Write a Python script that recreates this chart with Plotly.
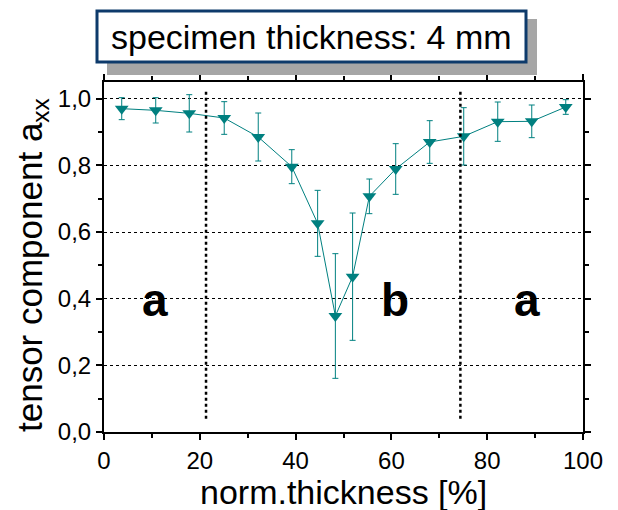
import plotly.graph_objects as go

# data
thickness = [3.7, 10.8, 17.8, 25.1, 32.2, 39.2, 44.6, 48.3, 51.9, 55.4, 60.9, 68.0, 75.1, 82.2, 89.3, 96.4]
a_xx = [0.970, 0.965, 0.956, 0.942, 0.885, 0.796, 0.626, 0.348, 0.466, 0.707, 0.789, 0.870, 0.887, 0.931, 0.932, 0.975]
a_err = [0.033, 0.038, 0.056, 0.049, 0.072, 0.051, 0.099, 0.187, 0.191, 0.052, 0.076, 0.064, 0.086, 0.059, 0.049, 0.022]
boundaries = [21.3, 74.4]
zone_labels = ["a", "b", "a"]
zone_x = [10.6, 60.8, 88.4]
zone_y = 0.395
title_text = "specimen thickness: 4 mm"
x_title = "norm.thickness [%]"
y_title = "tensor component a<sub>xx</sub>"

TEAL = "#008080"
FONT = "Liberation Sans, Arial, sans-serif"

# plot area in pixels: x 104..583, y 82..432
L, R, T, B = 104, 583, 82, 432


def px2paper_x(px):
    return (px - L) / float(R - L)


def px2paper_y(py):
    return (B - py) / float(B - T)


fig = go.Figure()
fig.add_trace(go.Scatter(
    x=thickness, y=a_xx, mode="lines+markers",
    line=dict(color=TEAL, width=1),
    marker=dict(symbol="triangle-down", size=12, color=TEAL),
    error_y=dict(type="data", array=a_err, visible=True, color=TEAL, thickness=1, width=3),
    showlegend=False,
))

for b in boundaries:
    fig.add_shape(type="line", xref="x", yref="y", x0=b, x1=b, y0=0.04, y1=1.03,
                  line=dict(color="black", width=2.5, dash="dot"))

for lx, lt in zip(zone_x, zone_labels):
    fig.add_annotation(x=lx, y=zone_y, xref="x", yref="y", text=lt, showarrow=False,
                       font=dict(family=FONT, size=46, color="black", weight="bold"))

# title box with shadow
fig.add_shape(type="rect", xref="paper", yref="paper",
              x0=px2paper_x(107), x1=px2paper_x(537), y0=px2paper_y(75), y1=px2paper_y(19),
              line=dict(width=0), fillcolor="#a6a6a6", layer="above")
fig.add_shape(type="rect", xref="paper", yref="paper",
              x0=px2paper_x(97), x1=px2paper_x(526), y0=px2paper_y(62), y1=px2paper_y(11),
              line=dict(width=3, color="#0d3a6b"), fillcolor="white", layer="above")
fig.add_annotation(x=px2paper_x(311), y=px2paper_y(37), xref="paper", yref="paper",
                   text=title_text, showarrow=False, xanchor="center", yanchor="middle",
                   font=dict(family=FONT, size=34, color="black"))

# axis titles
fig.add_annotation(x=px2paper_x(343), y=px2paper_y(492), xref="paper", yref="paper",
                   text=x_title, showarrow=False, xanchor="center", yanchor="middle",
                   font=dict(family=FONT, size=34, color="black"))
fig.add_annotation(x=px2paper_x(32), y=px2paper_y(265), xref="paper", yref="paper",
                   text=y_title, showarrow=False, xanchor="center", yanchor="middle",
                   textangle=-90, font=dict(family=FONT, size=35, color="black"))

fig.update_xaxes(
    range=[0, 100], dtick=20, tick0=0, showgrid=False, zeroline=False,
    showline=True, linecolor="black", linewidth=2, mirror="allticks",
    ticks="outside", ticklen=6, tickwidth=1.5, tickcolor="black",
    minor=dict(dtick=10, ticks="outside", ticklen=4, tickwidth=1.5, tickcolor="black", showgrid=False),
    tickfont=dict(family=FONT, size=24, color="black"),
)
fig.update_yaxes(
    range=[0, 1.05], dtick=0.2, tick0=0, tickformat=".1f",
    showgrid=True, gridcolor="black", gridwidth=1, griddash="dot", zeroline=False,
    showline=True, linecolor="black", linewidth=2, mirror="allticks",
    ticks="outside", ticklen=6, tickwidth=1.5, tickcolor="black",
    minor=dict(dtick=0.1, ticks="outside", ticklen=4, tickwidth=1.5, tickcolor="black", showgrid=False),
    tickfont=dict(family=FONT, size=24, color="black"),
)

fig.update_layout(
    width=618, height=510,
    margin=dict(l=L, r=618 - R, t=T, b=510 - B, autoexpand=False),
    paper_bgcolor="white", plot_bgcolor="white",
    separators=",.",
    font=dict(family=FONT, color="black"),
)
fig.write_html("out.html", config={"displayModeBar": False},
               post_script="document.body.style.margin='0px';")
